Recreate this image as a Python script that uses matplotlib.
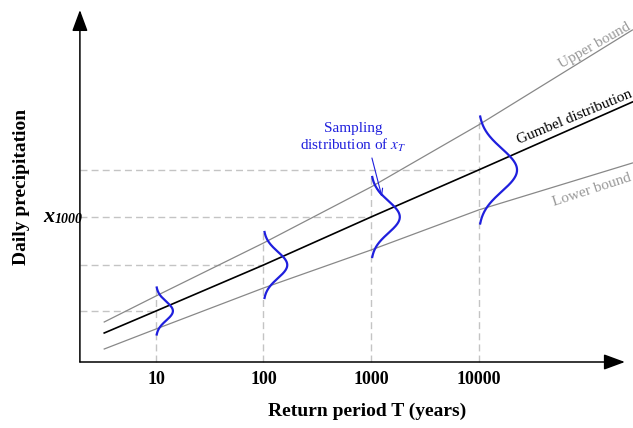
import numpy as np
import matplotlib
matplotlib.use("Agg")
import matplotlib.pyplot as plt

# Return periods shown on the axis and the line end points
T_line = [3.3, 10, 100, 1000, 10000, 2.7e5]
gumbel = [95, 117, 163, 211, 258, 326]
upper = [106, 132, 185, 241, 303, 398]
lower = [79, 99, 140, 178, 218, 265]

# Sampling distributions of x_T at the labelled return periods
T_marks = [10, 100, 1000, 10000]
tick_labels = ["10", "100", "1000", "10000"]
xT_mean = [117, 163, 211, 258]
xT_sd = [9.4, 13.2, 16.0, 21.4]

plt.rcParams['font.family'] = 'Liberation Serif'
plt.rcParams['mathtext.fontset'] = 'stix'

fig = plt.figure(figsize=(6.33, 4.28), dpi=100)
ax = fig.add_axes([0, 0, 1, 1])
ax.set_xscale('log')
ax.set_xlim(10 ** -0.451, 10 ** 5.437)
ax.set_ylim(0, 428)
ax.axis('off')

T_axis = 1.96     # where the vertical axis sits
y_axis = 66       # where the horizontal axis sits
dash_col = '#c4c4c4'
blue = '#1f1fdd'

# Axes drawn as arrows
arrow = dict(arrowstyle='-|>,head_length=0.65,head_width=0.24', mutation_scale=20,
             color='black', lw=1.1, shrinkA=0, shrinkB=0)
ax.annotate('', xy=(T_axis, 418), xytext=(T_axis, y_axis), arrowprops=arrow)
ax.annotate('', xy=(2.3e5, y_axis), xytext=(T_axis, y_axis), arrowprops=arrow)

# Guide lines from the axes to each quantile
for T, m, s in zip(T_marks, xT_mean, xT_sd):
    ax.plot([T_axis, T], [m, m], color=dash_col, lw=1.0, dashes=(5, 3), zorder=1)
    ax.plot([T, T], [y_axis, m + 2.5 * s], color=dash_col, lw=1.0, dashes=(5, 3), zorder=1)

# Gumbel fit and confidence bounds
ax.plot(T_line, upper, color='#888888', lw=0.9, zorder=2)
ax.plot(T_line, lower, color='#888888', lw=0.9, zorder=2)
ax.plot(T_line, gumbel, color='black', lw=1.2, zorder=3)

# Bell curves standing on each return period
width = 1.8 / 107.5   # decades per unit of sd at the peak
for T, m, s in zip(T_marks, xT_mean, xT_sd):
    z = np.linspace(-2.5, 2.5, 200)
    g = np.exp(-z ** 2 / 2)
    ax.plot(T * 10 ** (width * s * g), m + s * z, color=blue, lw=1.6, zorder=4)

# Tick labels
for T, lab in zip(T_marks, tick_labels):
    ax.text(T, 48, lab, ha='center', va='center', fontsize=13, fontweight='bold')

ax.text(918, 17, 'Return period T (years)', ha='center', va='center',
        fontsize=14, fontweight='bold')
ax.text(0.56, 241, 'Daily precipitation', ha='center', va='center',
        rotation=90, fontsize=14, fontweight='bold')
ax.text(1.13, 206, 'x', ha='right', va='baseline', fontsize=16,
        fontweight='bold', fontstyle='italic')
ax.text(1.13, 205, '1000', ha='left', va='baseline', fontsize=10,
        fontweight='bold', fontstyle='italic')

# Curve labels
ax.text(1.21e5, 382, 'Upper bound', color='#999999', fontsize=11,
        rotation=29.5, ha='center', va='center', rotation_mode='anchor')
ax.text(7.8e4, 311, 'Gumbel distribution', color='black', fontsize=11,
        rotation=22.5, ha='center', va='center', rotation_mode='anchor')
ax.text(1.14e5, 238, 'Lower bound', color='#999999', fontsize=11,
        rotation=18, ha='center', va='center', rotation_mode='anchor')

ax.text(681, 290, 'Sampling\ndistribution of $x_T$', color=blue, fontsize=11,
        ha='center', va='center', linespacing=1.1)
ax.annotate('', xy=(1265, 231), xytext=(1020, 270),
            arrowprops=dict(arrowstyle='->,head_length=0.5,head_width=0.2',
                            color=blue, lw=0.8, shrinkA=0, shrinkB=0))

fig.savefig('out.png', dpi=100)
